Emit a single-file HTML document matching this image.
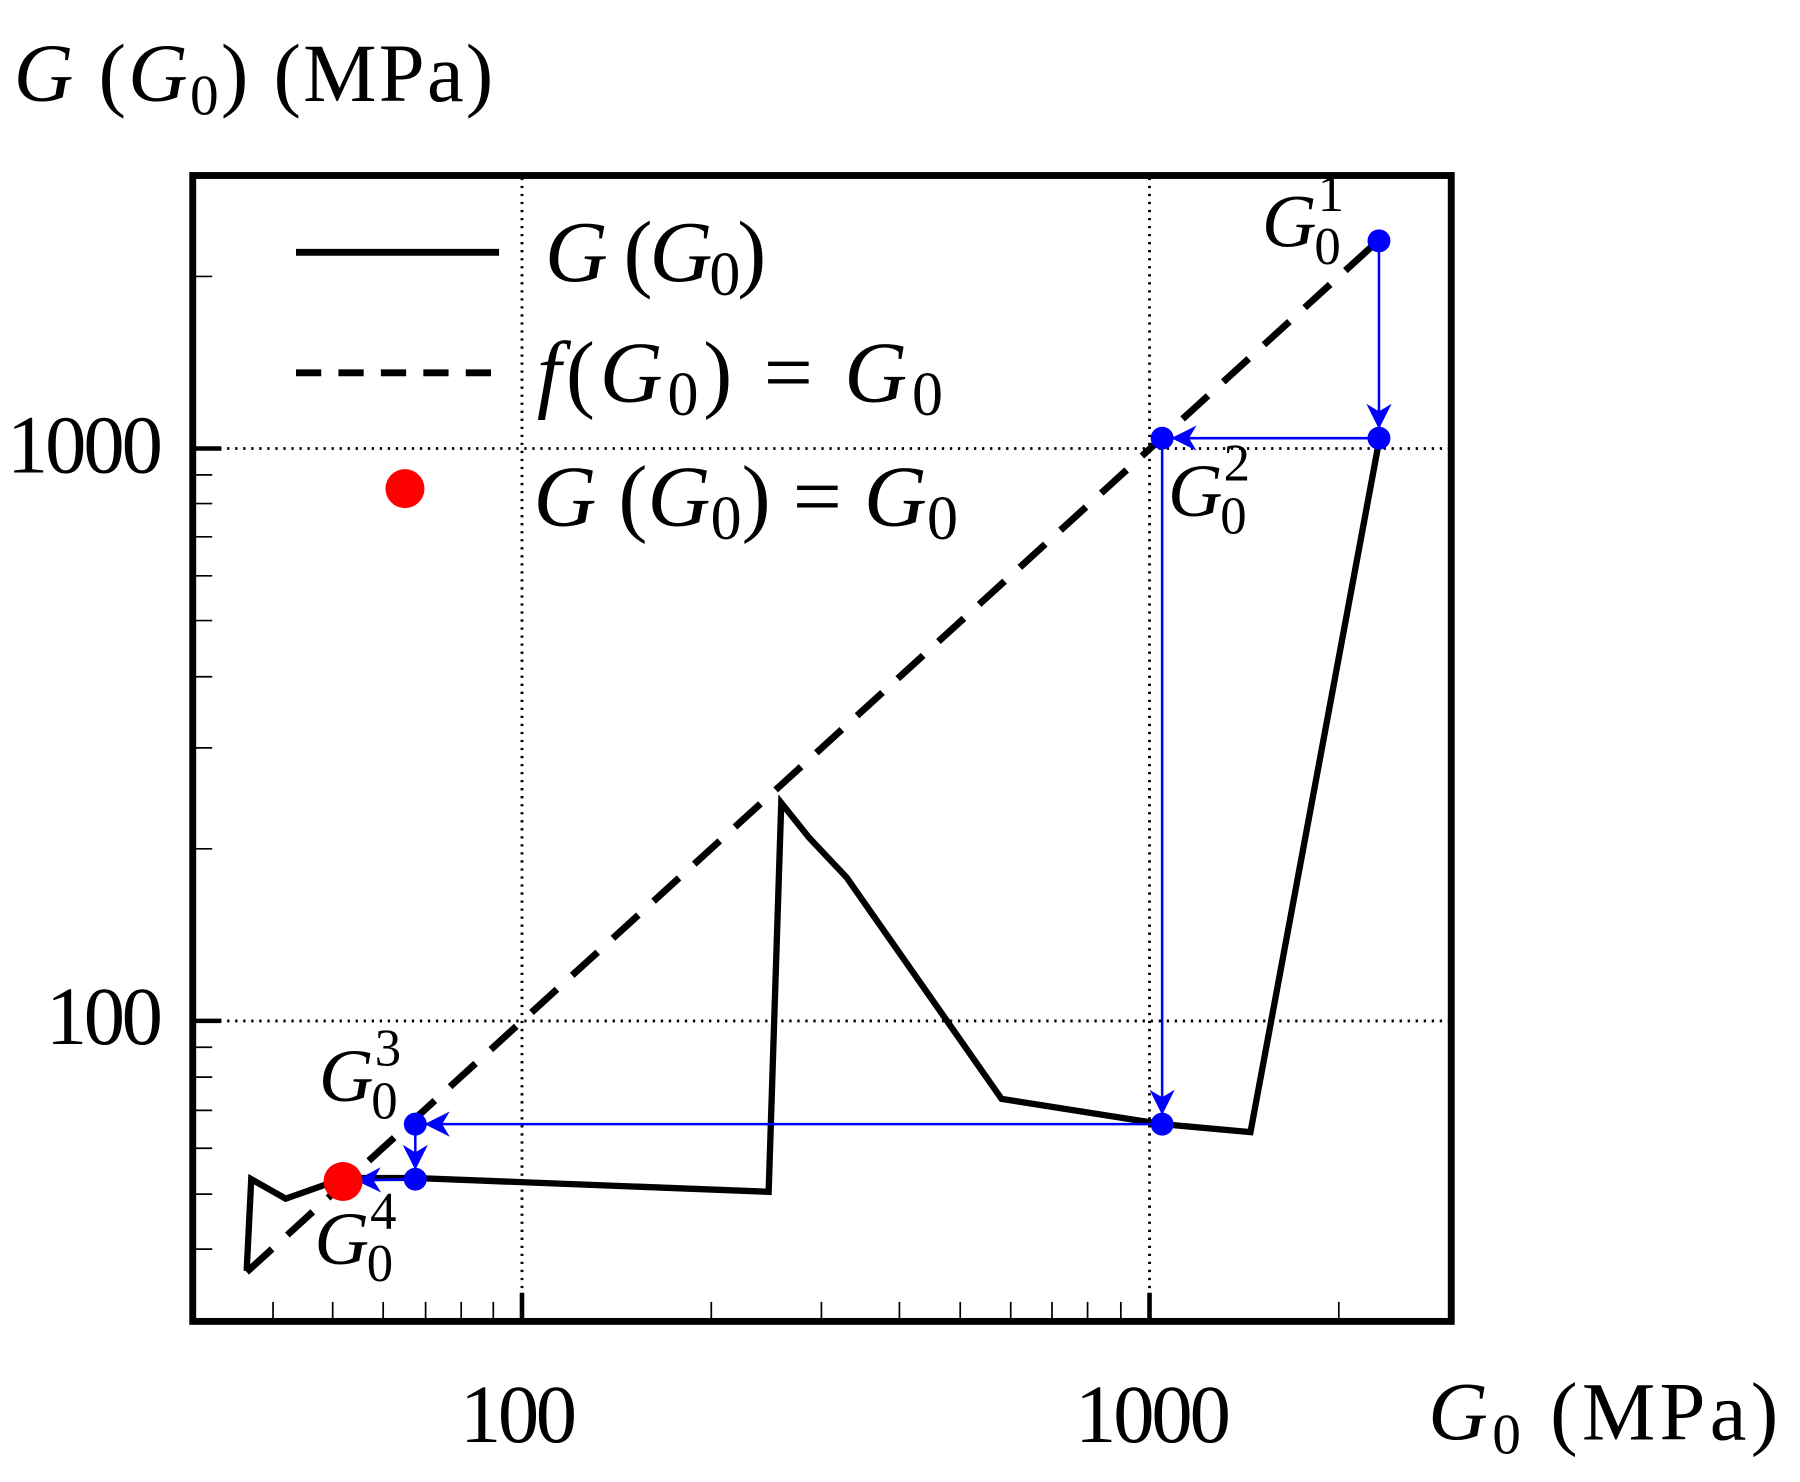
<!DOCTYPE html>
<html><head><meta charset="utf-8"><style>
html,body{margin:0;padding:0;background:#fff;}
svg{display:block;}
text{font-family:"Liberation Serif",serif;fill:#000;}
</style></head><body>
<svg width="1800" height="1482" viewBox="0 0 1569 1292" preserveAspectRatio="none" xmlns="http://www.w3.org/2000/svg">
<defs>
<marker id="ah2" viewBox="0 0 10 10" refX="10" refY="5" markerWidth="26" markerHeight="22" markerUnits="userSpaceOnUse" orient="auto">
<path d="M0,0 L10,5 L0,10 L3,5 Z" fill="#0000ff"/>
</marker>
</defs>
<g stroke="#000" stroke-width="2.5" stroke-dasharray="2,5">
<line x1="455" y1="155" x2="455" y2="1150"/>
<line x1="1002" y1="155" x2="1002" y2="1150"/>
<line x1="170" y1="391" x2="1263" y2="391"/>
<line x1="170" y1="890" x2="1263" y2="890"/>
</g>
<g stroke="#000" stroke-width="1.5">
<line x1="238" y1="1152" x2="238" y2="1135"/><line x1="290" y1="1152" x2="290" y2="1135"/>
<line x1="334" y1="1152" x2="334" y2="1135"/><line x1="371" y1="1152" x2="371" y2="1135"/>
<line x1="402" y1="1152" x2="402" y2="1135"/><line x1="430" y1="1152" x2="430" y2="1135"/>
<line x1="620" y1="1152" x2="620" y2="1135"/><line x1="716" y1="1152" x2="716" y2="1135"/>
<line x1="784" y1="1152" x2="784" y2="1135"/><line x1="837" y1="1152" x2="837" y2="1135"/>
<line x1="881" y1="1152" x2="881" y2="1135"/><line x1="917" y1="1152" x2="917" y2="1135"/>
<line x1="948" y1="1152" x2="948" y2="1135"/><line x1="977" y1="1152" x2="977" y2="1135"/>
<line x1="1167" y1="1152" x2="1167" y2="1135"/>
<line x1="168" y1="1089" x2="185" y2="1089"/><line x1="168" y1="1041" x2="185" y2="1041"/>
<line x1="168" y1="1001" x2="185" y2="1001"/><line x1="168" y1="968" x2="185" y2="968"/>
<line x1="168" y1="939" x2="185" y2="939"/><line x1="168" y1="913" x2="185" y2="913"/>
<line x1="168" y1="740" x2="185" y2="740"/><line x1="168" y1="652" x2="185" y2="652"/>
<line x1="168" y1="590" x2="185" y2="590"/><line x1="168" y1="541" x2="185" y2="541"/>
<line x1="168" y1="502" x2="185" y2="502"/><line x1="168" y1="468" x2="185" y2="468"/>
<line x1="168" y1="439" x2="185" y2="439"/><line x1="168" y1="414" x2="185" y2="414"/>
<line x1="168" y1="241" x2="185" y2="241"/>
</g>
<g stroke="#000" stroke-width="4">
<line x1="455" y1="1152" x2="455" y2="1127"/><line x1="1002" y1="1152" x2="1002" y2="1127"/>
<line x1="168" y1="391" x2="193" y2="391"/><line x1="168" y1="890" x2="193" y2="890"/>
</g>
<line x1="215" y1="1109" x2="1200" y2="211" stroke="#000" stroke-width="6" stroke-dasharray="30,18"/>
<polyline fill="none" stroke="#000" stroke-width="5.5" stroke-linejoin="miter" points="215,1108 219,1028 249,1045 300,1027 362,1027 670,1039 681,700 705,730 738,765 873,958 1013,980 1090,987 1202,385"/>
<g stroke="#0000ff" stroke-width="2.2" fill="none">
<line x1="1202" y1="210" x2="1202" y2="374" marker-end="url(#ah2)"/>
<line x1="1202" y1="382" x2="1021" y2="382" marker-end="url(#ah2)"/>
<line x1="1013" y1="382" x2="1013" y2="972" marker-end="url(#ah2)"/>
<line x1="1013" y1="980" x2="370" y2="980" marker-end="url(#ah2)"/>
<line x1="362" y1="980" x2="362" y2="1020" marker-end="url(#ah2)"/>
<line x1="362" y1="1028" x2="310" y2="1029" marker-end="url(#ah2)"/>
</g>
<g fill="#0000ff">
<circle cx="1202" cy="210" r="10"/><circle cx="1202" cy="382" r="10"/>
<circle cx="1013" cy="382" r="10"/><circle cx="1013" cy="980" r="10"/>
<circle cx="362" cy="980" r="10"/><circle cx="362" cy="1028" r="10"/>
</g>
<circle cx="299" cy="1030" r="17" fill="#ff0000"/>
<rect x="168" y="153" width="1097" height="999" fill="none" stroke="#000" stroke-width="6"/>
<line x1="258" y1="220" x2="435" y2="220" stroke="#000" stroke-width="6"/>
<line x1="258" y1="325" x2="435" y2="325" stroke="#000" stroke-width="6" stroke-dasharray="22,15"/>
<circle cx="353" cy="426" r="17" fill="#ff0000"/>
<g font-size="76">
<text x="475" y="245" textLength="193"><tspan font-style="italic">G</tspan> (<tspan font-style="italic">G</tspan><tspan font-size="54" dy="12">0</tspan><tspan dy="-12">)</tspan></text>
<text x="468" y="350" textLength="354"><tspan font-style="italic">f</tspan>(<tspan font-style="italic">G</tspan><tspan font-size="54" dy="12">0</tspan><tspan dy="-12">) = </tspan><tspan font-style="italic">G</tspan><tspan font-size="54" dy="12">0</tspan></text>
<text x="465" y="458" textLength="370"><tspan font-style="italic">G</tspan> (<tspan font-style="italic">G</tspan><tspan font-size="54" dy="12">0</tspan><tspan dy="-12">) = </tspan><tspan font-style="italic">G</tspan><tspan font-size="54" dy="12">0</tspan></text>
</g>
<g font-size="66">
<text x="1100" y="215"><tspan font-style="italic">G</tspan><tspan font-size="46" dx="-2" dy="15">0</tspan><tspan font-size="46" dx="-20" dy="-46">1</tspan></text>
<text x="1018" y="450"><tspan font-style="italic">G</tspan><tspan font-size="46" dx="-2" dy="15">0</tspan><tspan font-size="46" dx="-20" dy="-46">2</tspan></text>
<text x="278" y="960"><tspan font-style="italic">G</tspan><tspan font-size="46" dx="-2" dy="15">0</tspan><tspan font-size="46" dx="-20" dy="-46">3</tspan></text>
<text x="274" y="1102"><tspan font-style="italic">G</tspan><tspan font-size="46" dx="-2" dy="15">0</tspan><tspan font-size="46" dx="-20" dy="-46">4</tspan></text>
</g>
<g font-size="72">
<text x="142" y="412" text-anchor="end" textLength="136">1000</text>
<text x="142" y="910" text-anchor="end" textLength="102">100</text>
<text x="452" y="1257" text-anchor="middle" textLength="102">100</text>
<text x="1005" y="1257" text-anchor="middle" textLength="136">1000</text>
</g>
<text x="1245" y="1255" font-size="72" textLength="305"><tspan font-style="italic">G</tspan><tspan font-size="50" dy="12">0</tspan><tspan dy="-12"> (MPa)</tspan></text>
<text x="12" y="88" font-size="72" textLength="418"><tspan font-style="italic">G</tspan> (<tspan font-style="italic">G</tspan><tspan font-size="50" dy="12">0</tspan><tspan dy="-12">) (MPa)</tspan></text>
</svg>
</body></html>
